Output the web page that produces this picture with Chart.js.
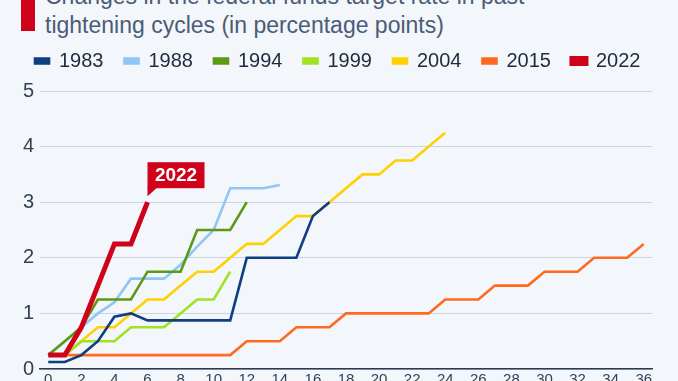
<!DOCTYPE html>
<html><head><meta charset="utf-8">
<script src="https://cdn.jsdelivr.net/npm/chart.js@4/dist/chart.umd.min.js"></script>
<style>
html,body{margin:0;padding:0;background:#f3f6fa;width:678px;height:381px;overflow:hidden;position:relative;}
#bar{position:absolute;left:21px;top:0;width:14px;height:31px;background:#d0021b;}
#title{position:absolute;left:45px;top:-18px;font-family:"Liberation Sans",sans-serif;font-size:23px;line-height:29px;color:#4b5c78;white-space:nowrap;}
#wrap{position:absolute;left:0;top:0;width:678px;height:391px;}
</style></head><body>
<div id="bar"></div>
<div id="title">Changes in the federal funds target rate in past<br>tightening cycles (in percentage points)</div>
<div id="wrap"><canvas id="c"></canvas></div>
<script>
const seriesNames = ["1983","1988","1994","1999","2004","2015","2022"];
const s1983 = [0.125,0.125,0.25,0.5,0.94,1.0,0.875,0.875,0.875,0.875,0.875,0.875,2,2,2,2,2.75,3];
const s1988 = [0.25,0.5,0.75,1.0,1.2,1.625,1.625,1.625,1.875,2.2,2.5,3.25,3.25,3.25,3.31];
const s1994 = [0.25,0.5,0.75,1.25,1.25,1.25,1.75,1.75,1.75,2.5,2.5,2.5,3.0];
const s1999 = [0.25,0.25,0.5,0.5,0.5,0.75,0.75,0.75,1.0,1.25,1.25,1.75];
const s2004 = [0.25,0.25,0.5,0.75,0.75,1.0,1.25,1.25,1.5,1.75,1.75,2.0,2.25,2.25,2.5,2.75,2.75,3.0,3.25,3.5,3.5,3.75,3.75,4.0,4.25];
const s2015 = [0.25,0.25,0.25,0.25,0.25,0.25,0.25,0.25,0.25,0.25,0.25,0.25,0.5,0.5,0.5,0.75,0.75,0.75,1,1,1,1,1,1,1.25,1.25,1.25,1.5,1.5,1.5,1.75,1.75,1.75,2,2,2,2.25];
const s2022 = [0.25,0.25,0.75,1.5,2.25,2.25,3.0];
const xTicks = [0,2,4,6,8,10,12,14,16,18,20,22,24,26,28,30,32,34,36];
const yTicks = [0,1,2,3,4,5];
const calloutLabel = "2022";

const colors = ["#0f3e83","#8fc6f6","#5b9a14","#9fe322","#ffd100","#ff6a1f","#d0021b"];
const allSeries = [s1983,s1988,s1994,s1999,s2004,s2015,s2022];
const orders = [1,3,2,4,5,6,0];
const FONT = '"Liberation Sans",sans-serif';

const datasets = allSeries.map((s,i)=>({
  label: seriesNames[i],
  data: s.map((v,x)=>({x:x,y:v})),
  borderColor: colors[i],
  backgroundColor: colors[i],
  borderWidth: i===6 ? 5 : 2.6,
  pointRadius: 0,
  tension: 0,
  order: orders[i],
  borderJoinStyle: 'miter'
}));

const legendSpacer = {
  id:'legendSpacer',
  beforeInit(chart){
    const lg = chart.legend;
    const orig = lg.fit;
    lg.fit = function(){ orig.call(lg); lg.height += 10; };
  }
};

const callout = {
  id:'callout',
  afterDatasetsDraw(chart){
    const meta = chart.getDatasetMeta(6);
    const last = meta.data[meta.data.length-1];
    const ctx = chart.ctx;
    const px = last.x, py = last.y;
    const w = 57, h = 26;
    const left = px, bottom = py - 14, top = bottom - h;
    ctx.save();
    ctx.fillStyle = "#d0021b";
    ctx.fillRect(left, top, w, h);
    ctx.beginPath();
    ctx.moveTo(left, bottom-1);
    ctx.lineTo(left+10, bottom-1);
    ctx.lineTo(left, bottom+8);
    ctx.closePath();
    ctx.fill();
    ctx.fillStyle = "#ffffff";
    ctx.font = 'bold 19px ' + FONT;
    ctx.textAlign = 'center';
    ctx.textBaseline = 'middle';
    ctx.fillText(calloutLabel, left + w/2, top + h/2 + 1);
    ctx.restore();
  }
};

new Chart(document.getElementById('c'), {
  type:'line',
  data:{datasets},
  plugins:[legendSpacer, callout],
  options:{
    responsive:true,
    maintainAspectRatio:false,
    animation:false,
    layout:{padding:{left:14,right:0,top:30,bottom:0}},
    plugins:{
      legend:{
        position:'top',
        align:'start',
        labels:{
          sort:(a,b)=>a.datasetIndex-b.datasetIndex,
          boxWidth:14, boxHeight:5, padding:21,
          color:'#1f2b3d',
          font:{family:FONT,size:20}
        }
      },
      tooltip:{enabled:false}
    },
    scales:{
      x:{
        type:'linear',
        min:-0.5, max:36.5,
        afterBuildTicks:(s)=>{ s.ticks = xTicks.map(v=>({value:v})); },
        grid:{display:false,drawTicks:false},
        border:{display:true,color:'#2b3a50',width:1.5},
        ticks:{color:'#333f52',font:{family:FONT,size:15},padding:2,maxRotation:0,autoSkip:false,callback:(v)=>String(v)}
      },
      y:{
        min:0,max:5,
        afterBuildTicks:(s)=>{ s.ticks = yTicks.map(v=>({value:v})); },
        afterFit:(s)=>{ s.width = 26; },
        grid:{color:'#cdd3dc',lineWidth:1,drawTicks:false},
        border:{display:false},
        ticks:{color:'#333f52',font:{family:FONT,size:20},padding:6}
      },
      yRight:{
        position:'right',
        min:0,max:5,
        afterFit:(s)=>{ s.width = 26; },
        grid:{display:false,drawTicks:false},
        border:{display:false},
        ticks:{display:false}
      }
    }
  }
});
</script>
</body></html>
